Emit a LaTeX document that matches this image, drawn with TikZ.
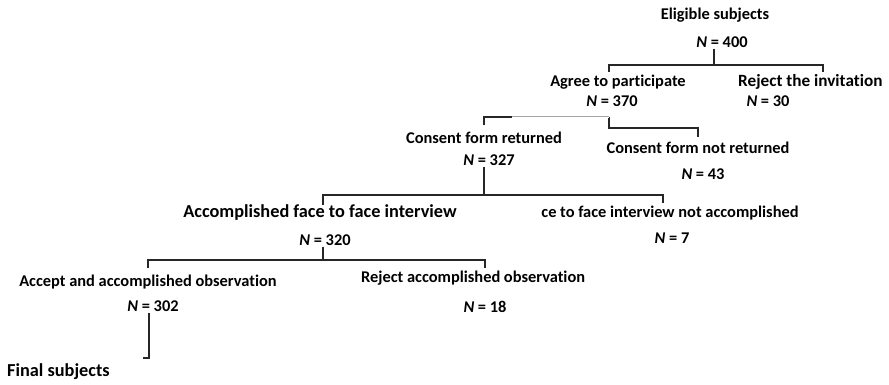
\documentclass[tikz,border=0pt]{standalone}
\usepackage{fontspec}
\setmainfont{Carlito}[Ligatures=NoCommon]
\usetikzlibrary{positioning}
\newcommand{\Nval}[1]{\textit{N} = #1}

\begin{document}
\begin{tikzpicture}[
    x=1pt, y=-1pt,
    every node/.style={font=\bfseries\fontsize{16.4}{19}\selectfont, inner sep=1pt},
    big/.style={font=\bfseries\fontsize{18.3}{21}\selectfont},
    link/.style={line width=1.1pt, black!85},
    faint/.style={draw=gray!70, double=white, double distance=0.8pt, line width=0.6pt}
]
\useasboundingbox (0,0) rectangle (889,385);

% eligible subjects
\node (elig) at (715,15) {Eligible subjects};
\node (n400) at (722,42) {\Nval{400}};

\node (agree) at (618,82) {Agree to participate};
\node (n370) at (612,101) {\Nval{370}};
\node[anchor=west, font=\bfseries\fontsize{17.2}{20}\selectfont] (reject) at (737,82) {Reject the invitation};
\node (n30) at (768,101) {\Nval{30}};

\coordinate (j400) at (714,65);
\coordinate (t-agree) at (609,72);
\coordinate (t-reject) at (823,72);
\draw[link] (n400.south -| j400) -- (j400);
\draw[link] (t-agree) |- (j400) -| (t-reject);

% consent form
\node (returned) at (484,138) {Consent form returned};
\node (n327) at (489,160) {\Nval{327}};
\node (notret) at (698,148) {Consent form not returned};
\node (n43) at (703,174) {\Nval{43}};

\coordinate (j370) at (609,117);
\coordinate (k370) at (609,128);
\coordinate (g370) at (512,117);
\coordinate (t-returned) at (484,125);
\coordinate (t-notret) at (698,137);
\draw[link] (j370) -- (k370) -| (t-notret);
\draw[faint] (j370) -- (g370);
\draw[link] (g370) -| (t-returned);

% interview
\node[big] (f2f) at (320,213) {Accomplished face to face interview};
\node (n320) at (325,240) {\Nval{320}};
\node (notf2f) at (670,213) {ce to face interview not accomplished};
\node (n7) at (672,238) {\Nval{7}};

\coordinate (j327) at (484,195);
\coordinate (t-f2f) at (323,205);
\coordinate (t-notf2f) at (663,203);
\draw[line width=1.8pt, black!85] (n327.south -| j327) -- (j327);
\draw[link] (t-f2f) |- (j327) -| (t-notf2f);

% observation
\node (accept) at (148,282) {Accept and accomplished observation};
\node (n302) at (153,306) {\Nval{302}};
\node[anchor=west] (rejobs) at (360,278) {Reject accomplished observation};
\node (n18) at (485,307) {\Nval{18}};

\coordinate (j320) at (323,260);
\coordinate (t-accept) at (148,268);
\coordinate (t-rejobs) at (485,268);
\draw[link] (n320.south -| j320) -- (j320);
\draw[link] (t-accept) |- (j320) -| (t-rejobs);

% final subjects
\node[big, anchor=west] (final) at (6,372) {Final subjects};
\coordinate (t-final) at (149,358);
\coordinate (e-final) at (143,358);
\draw[link] (n302.south -| t-final) -- (t-final) -- (e-final);

\end{tikzpicture}
\end{document}
